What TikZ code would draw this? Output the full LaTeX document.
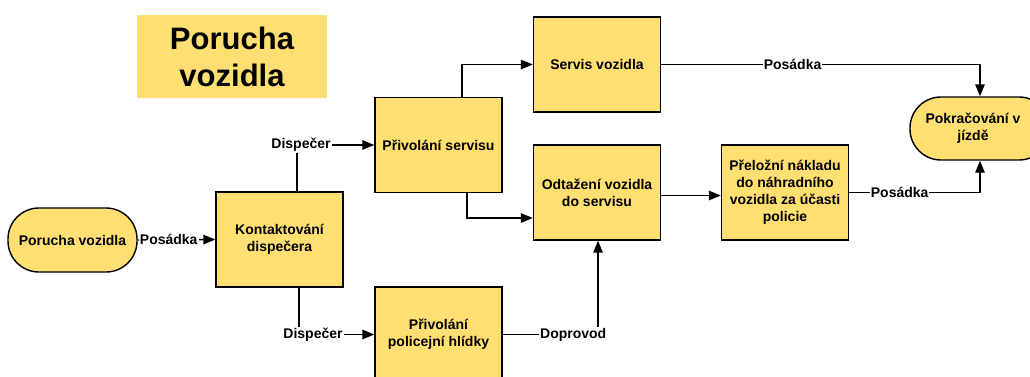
\documentclass[tikz,border=0pt]{standalone}
\usepackage{fontspec}
\setmainfont{Liberation Sans}
\usetikzlibrary{arrows.meta}
\definecolor{ylw}{HTML}{FFDF71}
\begin{document}
\begin{tikzpicture}[x=1pt,y=-1pt,
  every node/.style={font=\bfseries\fontsize{14}{17}\selectfont},
  boxnode/.style={draw=black,line width=1.4pt,fill=ylw,minimum width=127pt,minimum height=95pt,align=center,inner sep=2pt},
  termnode/.style={draw=black,line width=1.4pt,fill=ylw,rounded corners=31pt,align=center,inner sep=2pt},
  conn/.style={line width=1.4pt,-{Triangle[length=12pt,width=9.5pt]}},
  lbl/.style={fill=white,inner sep=1pt}]
\useasboundingbox (0,0) rectangle (1030,376);
\clip (0,0) rectangle (1030,376);
\node[fill=ylw,minimum width=190pt,minimum height=83pt,align=center,font=\bfseries\fontsize{31}{37}\selectfont] (title) at (232,56.5) {Porucha\\vozidla};
\node[termnode,minimum width=129pt,minimum height=64pt] (por) at (72.5,240) {Porucha vozidla};
\node[boxnode] (kon) at (279.5,239.5) {Kontaktování\\dispečera};
\node[boxnode] (ps) at (438.5,145) {Přivolání servisu};
\node[boxnode] (pol) at (438.5,334.5) {Přivolání\\policejní hlídky};
\node[boxnode] (sv) at (597,64.5) {Servis vozidla};
\node[boxnode] (od) at (597,192.5) {Odtažení vozidla\\do servisu};
\node[boxnode] (pre) at (785,192.5) {Přeložní nákladu\\do náhradního\\vozidla za účasti\\policie};
\node[termnode,minimum width=140pt,minimum height=63pt] (pok) at (980,128.5) {\hspace*{-14pt}Pokračování v\\\hspace*{-14pt}jízdě};
\draw[conn] (por.east) -- node[lbl,pos=0.4] {Posádka} (kon.west);
\draw[conn] ([xshift=17.5pt]kon.north) |- node[lbl,pos=0.5,xshift=4pt] {Dispečer} (ps.west);
\draw[conn] ([xshift=19.5pt]kon.south) |- node[lbl,pos=0.5,xshift=14pt] {Dispečer} (pol.west);
\draw[conn] ([xshift=23.5pt]ps.north) |- (sv.west);
\draw[conn] ([xshift=28.5pt]ps.south) |- ([yshift=-25.5pt]od.west);
\draw[conn] (pol.east) -| node[lbl,pos=0.37] {Doprovod} ([xshift=1pt]od.south);
\draw[conn] ([yshift=-3pt]od.east) -- ([yshift=-3pt]pre.west);
\draw[conn] (sv.east) -| node[lbl,pos=0.206] {Posádka} (pok.north);
\draw[conn] (pre.east) -| node[lbl,pos=0.193] {Posádka} (pok.south);
\end{tikzpicture}
\end{document}
